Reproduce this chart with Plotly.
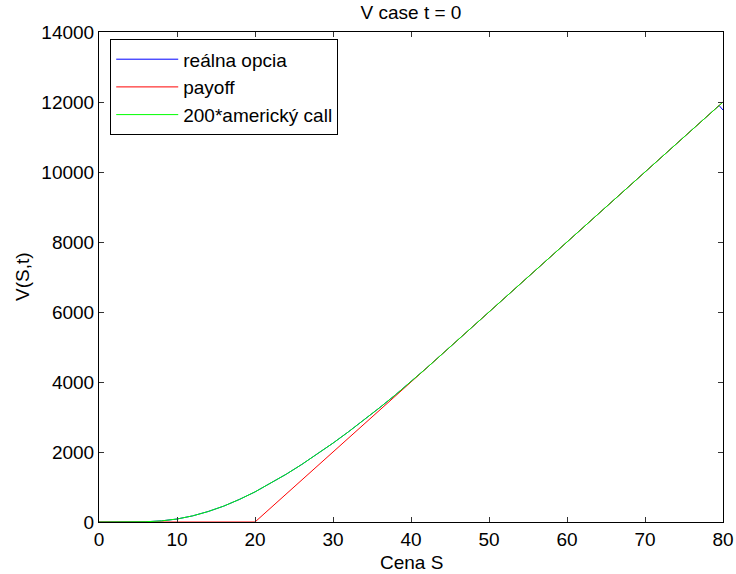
import plotly.graph_objects as go

# Stock price grid (Cena S)
S = [0, 2, 4, 6, 8, 10, 12, 14, 16, 18, 20, 22, 24, 26, 28, 30, 32, 34, 36, 38,
     40, 42, 44, 46, 48, 50, 52, 54, 56, 58, 60, 62, 64, 66, 68, 70, 72, 74, 76, 78, 80]

# 200 * American call value at t = 0
american = [0, 0, 1, 7, 32, 85, 175, 300, 455, 645, 860, 1105, 1365, 1645, 1942, 2254,
            2580, 2919, 3270, 3632, 4005, 4400, 4800, 5200, 5600, 6000, 6400, 6800, 7200,
            7600, 8000, 8400, 8800, 9200, 9600, 10000, 10400, 10800, 11200, 11600, 12000]

# Real option value (drops slightly at the right boundary)
S_real = S[:-1] + [79.5, 80]
real = american[:-1] + [11900, 11770]

# Payoff 200*max(S - K, 0), K = 20
S_pay = [0, 20, 80]
payoff = [0, 0, 12000]

FAMILY = "Liberation Sans, Arial, Helvetica, sans-serif"
font = dict(family=FAMILY, size=19, color="black")

fig = go.Figure()
fig.add_trace(go.Scatter(x=S_real, y=real, mode="lines", name="reálna opcia",
                         line=dict(color="rgb(0,0,255)", width=1)))
fig.add_trace(go.Scatter(x=S_pay, y=payoff, mode="lines", name="payoff",
                         line=dict(color="rgb(255,0,0)", width=1)))
fig.add_trace(go.Scatter(x=S, y=american, mode="lines", name="200*americký call",
                         line=dict(color="rgb(0,255,0)", width=1)))

axis_common = dict(showline=True, linecolor="black", linewidth=1, mirror="ticks",
                   ticks="inside", ticklen=5, tickcolor="#333333", showgrid=False,
                   zeroline=False, tickfont=font, automargin=False)

fig.update_layout(
    width=736, height=574,
    margin=dict(l=99, r=13, t=32, b=52),
    paper_bgcolor="white", plot_bgcolor="white",
    font=font,
    title=dict(text="V case t = 0", x=0.5, xref="paper", xanchor="center",
               y=1 - 12 / 574, yref="container", yanchor="middle",
               font=font, automargin=False),
    xaxis=dict(range=[0, 80], tickvals=[0, 10, 20, 30, 40, 50, 60, 70, 80], **axis_common),
    yaxis=dict(range=[0, 14000], tickvals=list(range(0, 14001, 2000)),
               tickformat="d", **axis_common),
    legend=dict(x=0.018, y=0.985, xanchor="left", yanchor="top",
                bgcolor="white", bordercolor="black", borderwidth=1,
                font=font, tracegroupgap=0, itemwidth=62),
    showlegend=True,
    annotations=[
        dict(text="Cena S", x=0.5, xref="paper", y=-28 / 490, yref="paper",
             xanchor="center", yanchor="top", showarrow=False, font=font),
        dict(text="V(S,t)", x=-(99 - 22) / 624, xref="paper", y=0.5, yref="paper",
             xanchor="center", yanchor="middle", showarrow=False, textangle=-90, font=font),
    ],
)

fig.write_html("out.html")
